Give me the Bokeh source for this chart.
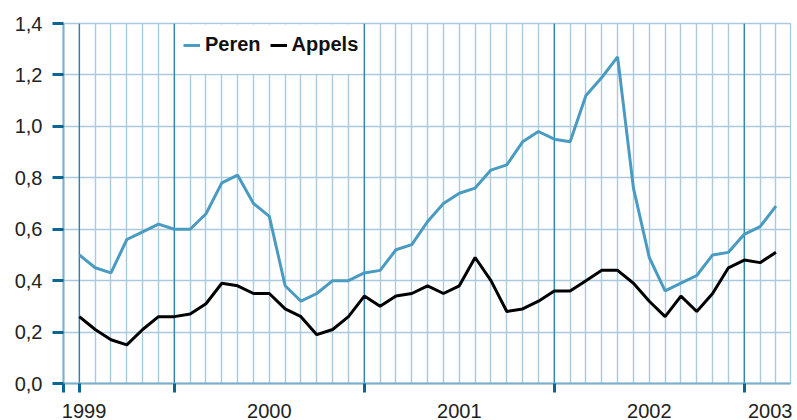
from bokeh.plotting import figure
from bokeh.models import (Range1d, FixedTicker, CustomJSTickFormatter, Span,
                          Legend, LegendItem)
from bokeh.embed import file_html
from bokeh.resources import INLINE

# Monthly data, July 1999 (index 0) .. March 2003 (index 44)
months = list(range(45))
peren = [0.50, 0.45, 0.43, 0.56, 0.59, 0.62, 0.60, 0.60, 0.66, 0.78, 0.81, 0.70,
         0.65, 0.38, 0.32, 0.35, 0.40, 0.40, 0.43, 0.44, 0.52, 0.54, 0.63, 0.70,
         0.74, 0.76, 0.83, 0.85, 0.94, 0.98, 0.95, 0.94, 1.12, 1.19, 1.27, 0.76,
         0.49, 0.36, 0.39, 0.42, 0.50, 0.51, 0.58, 0.61, 0.69]
appels = [0.26, 0.21, 0.17, 0.15, 0.21, 0.26, 0.26, 0.27, 0.31, 0.39, 0.38, 0.35,
          0.35, 0.29, 0.26, 0.19, 0.21, 0.26, 0.34, 0.30, 0.34, 0.35, 0.38, 0.35,
          0.38, 0.49, 0.40, 0.28, 0.29, 0.32, 0.36, 0.36, 0.40, 0.44, 0.44, 0.39,
          0.32, 0.26, 0.34, 0.28, 0.35, 0.45, 0.48, 0.47, 0.51]
series_names = ["Peren", "Appels"]

y_ticks = [0.0, 0.2, 0.4, 0.6, 0.8, 1.0, 1.2, 1.4]
year_marks = [0, 6, 18, 30, 42]           # start of data and January of each year
year_labels = ["1999", "2000", "2001", "2002", "2003"]
year_label_pos = [0.3, 12, 24, 36, 43.65]

GRID = "#aac9dd"
DARK_LINE = "#2f80aa"
TICK = "#0d6591"
AXIS = "#79b0cf"
PEREN_C = "#4a9bc2"
APPELS_C = "#000000"
FONT = "Liberation Sans"

X0, X1 = -1, 44.92
p = figure(width=792, height=420, x_range=Range1d(X0, X1), y_range=Range1d(0, 1.4),
           output_backend="svg", toolbar_location=None,
           min_border_left=63, min_border_right=2, min_border_top=23,
           min_border_bottom=34)
p.outline_line_color = GRID
p.outline_line_width = 1.3
p.background_fill_color = "white"
p.border_fill_color = "white"

# grids
p.xgrid.ticker = FixedTicker(ticks=list(range(-1, 46)))
p.ygrid.ticker = FixedTicker(ticks=y_ticks)
for g in (p.xgrid, p.ygrid):
    g.grid_line_color = GRID
    g.grid_line_width = 1.4

# x axis: labels on major ticks (invisible), dark marks on minor ticks
xa = p.xaxis[0]
xa.ticker = FixedTicker(ticks=year_label_pos, minor_ticks=[-1] + year_marks)
xa.formatter = CustomJSTickFormatter(args=dict(labels=year_labels),
                                     code="return labels[index];")
xa.axis_line_color = AXIS
xa.axis_line_width = 2
xa.major_tick_line_color = None
xa.major_tick_in = 0
xa.major_tick_out = 0
xa.minor_tick_line_color = TICK
xa.minor_tick_line_width = 3
xa.minor_tick_in = 0
xa.minor_tick_out = 9
xa.major_label_standoff = 11
xa.major_label_text_font = FONT
xa.major_label_text_font_size = "20px"
xa.major_label_text_color = "#222222"

ya = p.yaxis[0]
ya.ticker = FixedTicker(ticks=y_ticks)
ya.formatter = CustomJSTickFormatter(code="return tick.toFixed(1).replace('.', ',');")
ya.axis_line_color = AXIS
ya.axis_line_width = 2
ya.major_tick_line_color = TICK
ya.major_tick_line_width = 3
ya.major_tick_in = 0
ya.major_tick_out = 11
ya.minor_tick_line_color = None
ya.major_label_standoff = 10
ya.major_label_text_font = FONT
ya.major_label_text_font_size = "20px"
ya.major_label_text_color = "#222222"

# white box behind legend
p.quad(left=6.08, right=17.92, bottom=1.205, top=1.396, fill_color="white",
       line_color=None)

for m in year_marks:
    p.add_layout(Span(location=m, dimension="height", line_color=DARK_LINE,
                      line_width=1.3, level="underlay"))

r_peren = p.line(months, peren, line_color=PEREN_C, line_width=3)
r_appels = p.line(months, appels, line_color=APPELS_C, line_width=3)

legend = Legend(items=[LegendItem(label=series_names[0], renderers=[r_peren]),
                       LegendItem(label=series_names[1], renderers=[r_appels])],
                orientation="horizontal", location=(120, 327),
                padding=0, margin=0, spacing=9, label_standoff=5,
                glyph_width=17, glyph_height=20, label_height=20,
                border_line_color=None, background_fill_alpha=0,
                label_text_font=FONT, label_text_font_style="bold",
                label_text_font_size="20px", label_text_color="#111111")
p.add_layout(legend)

open("out.html", "w").write(file_html(p, INLINE))
